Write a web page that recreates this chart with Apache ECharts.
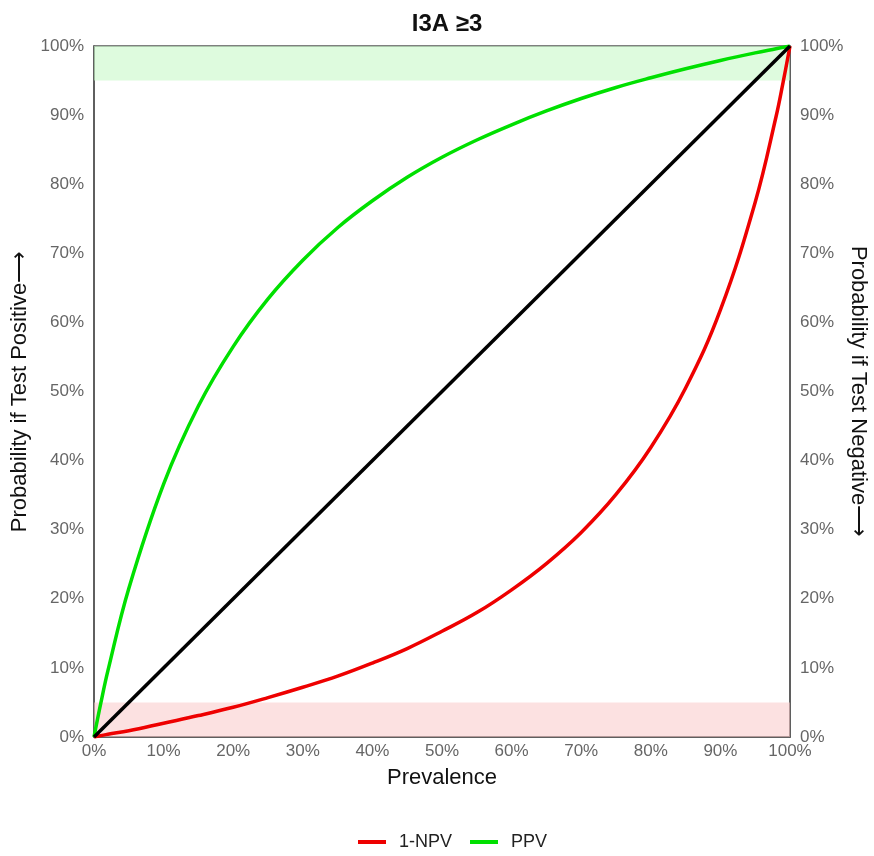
<!DOCTYPE html>
<html>
<head>
<meta charset="utf-8">
<script src="https://cdn.jsdelivr.net/npm/echarts@6/dist/echarts.min.js"></script>
<style>
  html, body { margin: 0; padding: 0; background: #fff; }
  #chart { width: 874px; height: 856px; }
</style>
</head>
<body>
<div id="chart"></div>
<script>
// prevalence (%) along the x axis
const prevalence = [0, 1, 2, 5, 10, 15, 20, 25, 30, 35, 40, 45, 50, 55, 60, 65, 70, 75, 80, 85, 90, 95, 98, 99, 100];
const ppv = [0, 5.0, 9.6, 21.5, 36.6, 47.9, 56.5, 63.4, 69.0, 73.7, 77.6, 81.0, 83.9, 86.4, 88.6, 90.6, 92.4, 94.0, 95.4, 96.7, 97.9, 99.0, 99.6, 99.8, 100];
const oneMinusNpv = [0, 0.2, 0.4, 0.9, 2.0, 3.1, 4.3, 5.7, 7.2, 8.8, 10.7, 12.8, 15.3, 18.0, 21.3, 25.1, 29.6, 35.1, 41.9, 50.5, 61.8, 77.4, 89.8, 94.7, 100];
const diagonal = [[0, 0], [100, 100]];
const greenBand = [95, 100];
const redBand = [0, 5];

const toPairs = (ys) => prevalence.map((x, i) => [x, ys[i]]);

const chart = echarts.init(document.getElementById("chart"));
const font = "Liberation Sans, Arial, sans-serif";

chart.setOption({
  animation: false,
  title: {
    text: "I3A ≥3",
    left: 442,
    textAlign: "center",
    top: 7,
    textStyle: { fontFamily: font, fontSize: 24, fontWeight: "bold", color: "#111" },
  },
  legend: {
    data: ["1-NPV", "PPV"],
    top: 828,
    left: 353,
    itemWidth: 28,
    itemHeight: 4,
    itemGap: 18,
    icon: "rect",
    textStyle: { fontFamily: font, fontSize: 18, color: "#222", padding: [0, 0, 0, 8] },
  },
  grid: {
    left: 94,
    right: 84,
    top: 46,
    bottom: 119,
    outerBoundsMode: "none",
    containLabel: false,
    show: true,
    borderColor: "#555",
    borderWidth: 1.5,
  },
  xAxis: {
    type: "value",
    min: 0,
    max: 100,
    interval: 10,
    name: "Prevalence",
    nameLocation: "middle",
    nameGap: 30,
    nameMoveOverlap: false,
    nameTextStyle: { fontFamily: font, fontSize: 22, color: "#111" },
    axisLine: { show: true, lineStyle: { color: "#555", width: 1.5 } },
    axisTick: { show: false },
    splitLine: { show: false },
    axisLabel: { formatter: "{value}%", fontFamily: font, fontSize: 17, color: "#666", margin: 6 },
  },
  yAxis: [
    {
      type: "value",
      min: 0,
      max: 100,
      interval: 10,
      position: "left",
      name: "Probability if Test Positive⟶",
      nameLocation: "middle",
      nameGap: 63,
      nameMoveOverlap: false,
      nameTextStyle: { fontFamily: font, fontSize: 22, color: "#111" },
      axisLine: { show: true, lineStyle: { color: "#555", width: 1.5 } },
      axisTick: { show: false },
      splitLine: { show: false },
      axisLabel: { formatter: "{value}%", fontFamily: font, fontSize: 17, color: "#666", margin: 10 },
    },
    {
      type: "value",
      min: 0,
      max: 100,
      interval: 10,
      position: "right",
      name: "Probability if Test Negative⟶",
      nameLocation: "middle",
      nameRotate: -90,
      nameGap: 57,
      nameMoveOverlap: false,
      nameTextStyle: { fontFamily: font, fontSize: 22, color: "#111" },
      axisLine: { show: true, lineStyle: { color: "#555", width: 1.5 } },
      axisTick: { show: false },
      splitLine: { show: false },
      axisLabel: { formatter: "{value}%", fontFamily: font, fontSize: 17, color: "#666", margin: 10 },
    },
  ],
  series: [
    {
      name: "1-NPV",
      type: "line",
      data: toPairs(oneMinusNpv),
      smooth: 0.4,
      showSymbol: false,
      color: "#ee0000",
      lineStyle: { width: 3.5, color: "#ee0000" },
      z: 3,
      markArea: {
        silent: true,
        itemStyle: { color: "rgba(250, 200, 200, 0.55)" },
        data: [[{ xAxis: 0, yAxis: redBand[0] }, { xAxis: 100, yAxis: redBand[1] }]],
      },
    },
    {
      name: "PPV",
      type: "line",
      data: toPairs(ppv),
      smooth: 0.4,
      showSymbol: false,
      color: "#00e000",
      lineStyle: { width: 3.5, color: "#00e000" },
      z: 3,
      markArea: {
        silent: true,
        itemStyle: { color: "rgba(200, 248, 200, 0.6)" },
        data: [[{ xAxis: 0, yAxis: greenBand[0] }, { xAxis: 100, yAxis: greenBand[1] }]],
      },
    },
    {
      name: "chance",
      type: "line",
      data: diagonal,
      showSymbol: false,
      color: "#000",
      lineStyle: { width: 3.5, color: "#000" },
      z: 4,
    },
  ],
});
</script>
</body>
</html>
